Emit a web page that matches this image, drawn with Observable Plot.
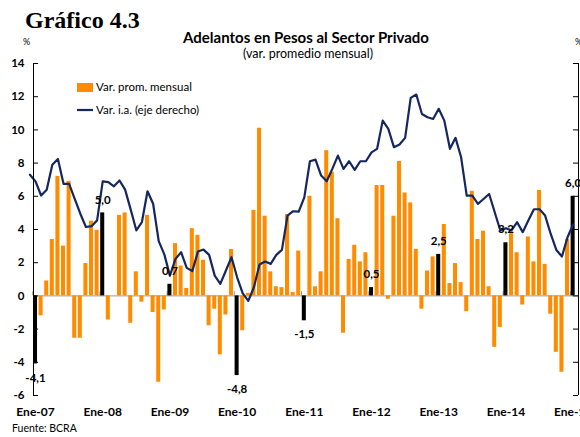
<!DOCTYPE html>
<html>
<head>
<meta charset="utf-8">
<script src="https://cdn.jsdelivr.net/npm/d3@7"></script>
<script src="https://cdn.jsdelivr.net/npm/@observablehq/plot@0.6"></script>
<style>
  html, body { margin: 0; padding: 0; background: #fff; }
  #chart { width: 580px; height: 437px; }
</style>
</head>
<body>
<div id="chart"></div>
<script>
// Monthly bars: Ene-07 .. Ene-15 (var. prom. mensual, %)
const barValues = [
  -4.1, -1.2, 0.9, 3.4, 7.2, 3.0, 6.9, -2.55, -2.55, 1.95, 4.5, 3.95,
  5.0, -1.45, 0, 4.85, 5.0, -1.65, 1.45, -0.38, 4.85, -1.0, -5.2, -0.85,
  0.7, 3.15, 1.8, 0.45, 4.05, 3.65, 2.15, -1.8, -0.8, -3.55, -1.15, 2.8,
  -4.8, -2.1, 0.15, 5.15, 10.1, 4.8, 1.45, 0.55, 0.5, 4.9, 0.2, 2.7,
  -1.5, 6.0, 0.55, 1.45, 8.75, 7.45, 4.65, -2.25, 2.2, 3.05, 2.05, 2.6,
  0.5, 6.65, 6.65, -0.2, 4.8, 8.1, 6.2, 5.6, 2.8, -0.8, 1.5, 2.35,
  2.5, 4.3, 0.75, 1.95, 0.8, -0.95, 6.3, 3.4, 3.9, 0.55, -3.1, -1.9,
  3.2, 3.75, 2.6, -0.55, 3.55, 2.05, 6.35, 1.9, -1.1, -3.4, -4.6, 3.4,
  6.0
];
// Var. i.a. (eje derecho): Dic-06 .. Ene-15
const lineValues = [
  7.3, 6.9, 6.05, 6.4, 7.9, 8.25, 6.75, 6.75, 5.85, 4.95, 4.15, 4.2,
  4.55, 6.9, 6.85, 6.6, 6.95, 6.4, 5.2, 3.95, 4.45, 6.3, 5.55, 3.3,
  2.5, 1.22, 2.23, 2.63, 1.69, 1.49, 2.67, 2.79, 2.47, 1.22, 0.72, 1.53,
  2.33, 1.12, 0.15, -0.3, 0.52, 1.89, 2.07, 1.93, 2.47, 2.77, 4.84, 5.1,
  5.08, 5.94, 8.11, 8.21, 7.25, 6.91, 7.65, 8.45, 7.65, 8.11, 7.59, 8.11,
  8.11, 8.65, 8.86, 10.56, 10.06, 8.96, 9.12, 9.52, 11.93, 12.13, 10.96, 10.76,
  10.66, 11.27, 10.56, 8.86, 9.52, 8.35, 6.04, 6.04, 5.54, 5.84, 6.14, 5.04,
  3.94, 4.08, 3.94, 4.44, 3.84, 4.54, 5.22, 5.22, 4.84, 3.73, 2.77, 2.37,
  3.53, 4.3
];
const yearLabels = ["Ene-07","Ene-08","Ene-09","Ene-10","Ene-11","Ene-12","Ene-13","Ene-14","Ene-15"];
const yTicks = [-6, -4, -2, 0, 2, 4, 6, 8, 10, 12, 14];

const ORANGE = "#FF8C00";
const NAVY = "#14275E";

const bars = barValues.map((v, t) => ({t, v, jan: t % 12 === 0}));
const lineData = lineValues.map((v, i) => ({t: i - 1, v}));
const years = yearLabels.map((label, k) => ({t: k * 12, label}));
const janBars = bars.filter(d => d.jan);
const fmt = v => v.toFixed(1).replace(".", ",");

const xMin = -0.36, xMax = 96.96;
const half = 0.36;
const tickLen = 0.9;

const plot = Plot.plot({
  width: 580,
  height: 437,
  marginLeft: 33,
  marginRight: 2,
  marginTop: 63,
  marginBottom: 42,
  style: {fontFamily: "Lato, 'DejaVu Sans', sans-serif", color: "#000", background: "#fff", overflow: "visible"},
  x: {type: "linear", domain: [xMin, xMax], axis: null},
  y: {domain: [-6, 14], axis: null},
  marks: [
    Plot.ruleY([0], {x1: xMin, x2: xMax, stroke: "#9a9a9a", strokeWidth: 1}),
    Plot.ruleX(years, {x: d => d.t - 0.5, y1: 0, y2: 0.25, stroke: "#9a9a9a"}),
    Plot.rectY(bars.filter(d => !d.jan), {x1: d => d.t - half, x2: d => d.t + half, y1: 0, y2: "v", fill: ORANGE}),
    Plot.rectY(janBars, {x1: d => d.t - half, x2: d => d.t + half, y1: 0, y2: "v", fill: "#000"}),
    Plot.line(lineData, {x: "t", y: "v", stroke: NAVY, strokeWidth: 2.2, strokeLinejoin: "round"}),
    // labels on January bars
    Plot.text(janBars.filter(d => d.v >= 0), {x: "t", y: "v", text: d => fmt(d.v), dy: -13, fontWeight: "bold", fontSize: 11.5, fill: "#000"}),
    Plot.text(janBars.filter(d => d.v < 0), {x: "t", y: "v", text: d => fmt(d.v), dy: 14, fontWeight: "bold", fontSize: 11.5, fill: "#000"}),
    // left axis
    Plot.ruleX([xMin], {y1: -6, y2: 14, stroke: "#000", strokeWidth: 1}),
    Plot.ruleY(yTicks, {y: d => d, x1: xMin, x2: xMin + tickLen, stroke: "#000"}),
    Plot.text(yTicks, {x: xMin, y: d => d, text: d => String(d), textAnchor: "end", dx: -9, fontWeight: "bold", fontSize: 11.5, fill: "#000"}),
    // right axis
    Plot.ruleX([xMax], {y1: -6, y2: 14, stroke: "#000", strokeWidth: 1}),
    Plot.ruleY(yTicks, {y: d => d, x1: xMax - tickLen, x2: xMax, stroke: "#000"}),
    // x labels
    Plot.text(years, {x: "t", y: -6, text: "label", dy: 17, fontWeight: "bold", fontSize: 12, fill: "#000"})
  ]
});

const svg = d3.select(plot);
function addText(str, x, y, opts) {
  const t = svg.append("text").attr("x", x).attr("y", y).text(str)
    .attr("font-family", opts.family || "Lato, 'DejaVu Sans', sans-serif")
    .attr("font-size", opts.size)
    .attr("font-weight", opts.bold ? "bold" : "normal")
    .attr("text-anchor", opts.anchor || "start")
    .attr("fill", "#000");
  return t;
}
addText("Gráfico 4.3", 25, 28, {family: "'Liberation Serif', 'Times New Roman', serif", size: 24, bold: true});
addText("%", 23, 45, {size: 9});
addText("%", 575, 45, {size: 9});
addText("Adelantos en Pesos al Sector Privado", 306, 43, {size: 15, bold: true, anchor: "middle"});
addText("(var. promedio mensual)", 308, 58, {size: 12.5, anchor: "middle"});
// legend
svg.append("rect").attr("x", 77).attr("y", 83).attr("width", 16).attr("height", 9).attr("fill", ORANGE);
addText("Var. prom. mensual", 96, 91, {size: 11.5});
svg.append("line").attr("x1", 77).attr("x2", 93).attr("y1", 110).attr("y2", 110).attr("stroke", NAVY).attr("stroke-width", 2.2);
addText("Var. i.a. (eje derecho)", 96, 114, {size: 11.5});
addText("Fuente: BCRA", 12, 432, {size: 10.5});

document.getElementById("chart").appendChild(plot);
</script>
</body>
</html>
